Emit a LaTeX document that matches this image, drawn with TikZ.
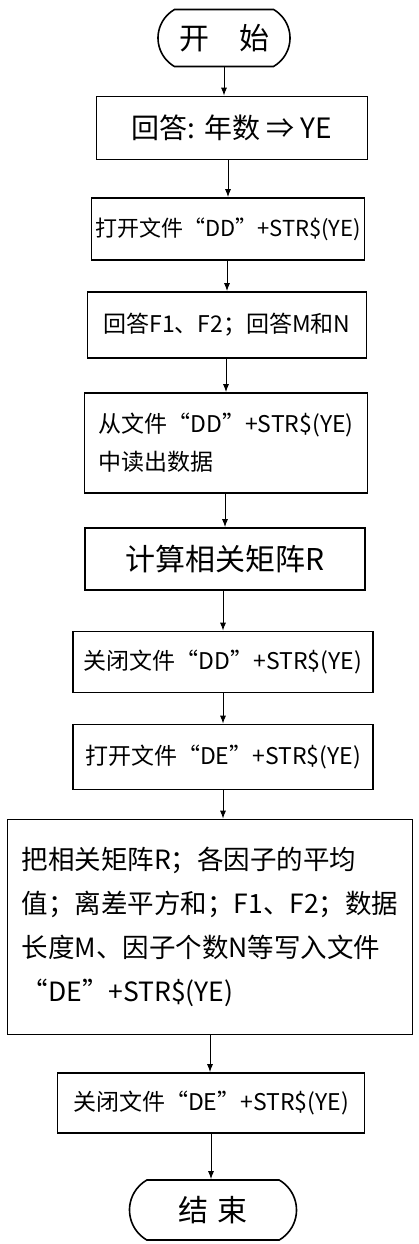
\documentclass[tikz,border=0pt]{standalone}
\usepackage{fontspec}
\setmainfont{Noto Sans CJK SC}
\usetikzlibrary{arrows.meta,shapes.misc}
\begin{document}
\begin{tikzpicture}[x=1pt,y=-1pt,
  box/.style={draw, line width=1.6pt, rectangle, inner sep=0pt, align=left, font=\fontsize{23}{30}\selectfont},
  term/.style={draw, line width=1.6pt, rounded rectangle, rounded rectangle arc length=120, inner sep=0pt, font=\fontsize{30}{34}\selectfont},
  arr/.style={-{Latex[length=8pt,width=6pt]}, line width=1pt}]
\useasboundingbox (0,0) rectangle (418,1244);
\node[term, minimum width=132pt, minimum height=57pt] (s) at (224,38) {开\quad 始};
\node[box, minimum width=271pt, minimum height=63pt, font=\fontsize{28}{30}\selectfont] (b2) at (232,128) {回答: 年数 ⇒ YE};
\node[box, minimum width=273pt, minimum height=62pt, font=\fontsize{22}{30}\selectfont] (b3) at (228,229) {打开文件“DD”+STR\$(YE)};
\node[box, minimum width=279pt, minimum height=66pt] (b4) at (227,325) {回答F1、F2；回答M和N};
\node[box, minimum width=283pt, minimum height=100pt, font=\fontsize{23}{38}\selectfont] (b5) at (226,443) {从文件“DD”+STR\$(YE)\\中读出数据};
\node[box, minimum width=280pt, minimum height=62pt, font=\fontsize{30}{30}\selectfont] (b6) at (225,559) {计算相关矩阵R};
\node[box, minimum width=300pt, minimum height=61pt] (b7) at (223,662) {关闭文件“DD”+STR\$(YE)};
\node[box, minimum width=300pt, minimum height=65pt] (b8) at (223,757) {打开文件“DE”+STR\$(YE)};
\node[box, minimum width=405pt, minimum height=215pt, font=\fontsize{26.5}{44}\selectfont] (b9) at (210,927) {把相关矩阵R；各因子的平均\\值；离差平方和；F1、F2；数据\\长度M、因子个数N等写入文件\\“DE”+STR\$(YE)};
\node[box, minimum width=307pt, minimum height=60pt] (b10) at (211,1103) {关闭文件“DE”+STR\$(YE)};
\node[term, minimum width=167pt, minimum height=60pt] (e) at (213,1210) {结\,\,束};
\draw[arr] (s.south) -- (s.south |- b2.north);
\draw[arr] (b3.north |- b2.south) -- (b3.north);
\draw[arr] (b4.north |- b3.south) -- (b4.north);
\draw[arr] (b5.north |- b4.south) -- (b5.north);
\draw[arr] (b6.north |- b5.south) -- (b6.north);
\draw[arr] (b7.north |- b6.south) -- (b7.north);
\draw[arr] (b7.south) -- (b7.south |- b8.north);
\draw[arr] (b8.south) -- (b8.south |- b9.north);
\draw[arr] (b9.south) -- (b9.south |- b10.north);
\draw[arr] (b10.south) -- (b10.south |- e.north);
\end{tikzpicture}
\end{document}
